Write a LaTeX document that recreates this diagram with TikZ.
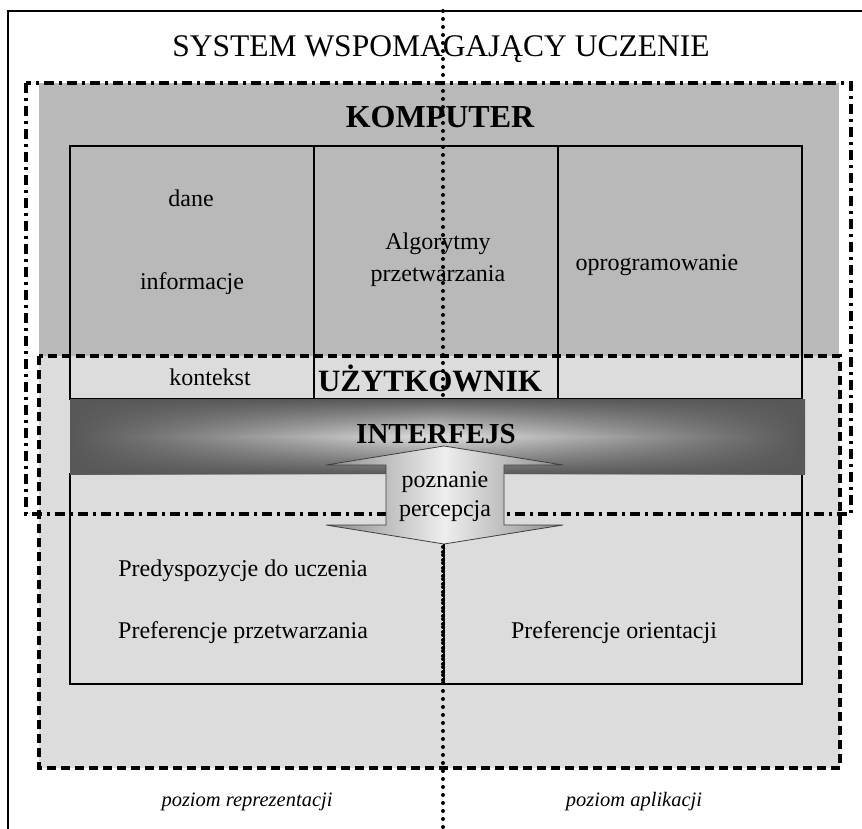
\documentclass[tikz,border=0pt]{standalone}
\usepackage{fontspec}
\setmainfont{Liberation Serif}
\usetikzlibrary{fadings}
\definecolor{gdark}{RGB}{185,185,185}
\definecolor{glight}{RGB}{220,220,220}
\definecolor{bandedge}{RGB}{88,88,88}
\definecolor{bandmid}{RGB}{225,225,225}
\definecolor{arrowedge}{RGB}{140,140,140}
\definecolor{arrowmid}{RGB}{238,238,238}
\tikzfading[name=bandv, top color=transparent!0, bottom color=transparent!0, middle color=transparent!100]
\begin{document}
\begin{tikzpicture}[x=1pt,y=-1pt,
  txt/.style={font=\fontsize{24}{28}\selectfont, inner sep=0pt, anchor=base},
  boldtxt/.style={font=\fontsize{31}{36}\selectfont\bfseries, inner sep=0pt, anchor=base},
  itxt/.style={font=\fontsize{20.5}{24}\selectfont\itshape, inner sep=0pt, anchor=base},
  solidline/.style={line width=1.8pt, draw=black},
  cellbox/.style={rectangle, draw=black, line width=1.8pt, inner sep=0pt, minimum width=244pt, minimum height=253pt},
  dashdotline/.style={line width=3.2pt, dash pattern=on 10pt off 5pt on 3pt off 5pt},
  dashline/.style={line width=3.2pt, dash pattern=on 9pt off 5pt},
  dotline/.style={line width=4pt, dash pattern=on 0pt off 8pt, line cap=round}
]
\useasboundingbox (0,0) rectangle (862,829);
% outer frame (cropped at right and bottom)
\begin{scope}
\clip (0,0) rectangle (862,829);
\draw[solidline] (8,840) -- (8,11) -- (870,11);
\end{scope}
\node[font=\fontsize{31.5}{36}\selectfont, inner sep=0pt, anchor=base] (title) at (441,57) {SYSTEM WSPOMAGAJĄCY UCZENIE};

% background regions
\fill[gdark] (39,83) rectangle (839,356);
\fill[glight] (39,356) rectangle (840,768);
\draw[dashline] (39,356) rectangle (840,768);

% computer table
\node[cellbox] (cellA) at (192,272.5) {};
\node[cellbox] (cellB) at (436,272.5) {};
\node[cellbox] (cellC) at (680,272.5) {};

% lower (user) box
\node[rectangle, draw=black, line width=1.8pt, inner sep=0pt, minimum width=732pt, minimum height=210pt] (lower) at (436,579) {};

% dash-dot rectangle
\draw[dashdotline] (26,83) rectangle (851,514);

% texts
\node[boldtxt, font=\fontsize{32}{36}\selectfont\bfseries] (komp) at (440,128) {KOMPUTER};
\node[txt] (dane) at (191,207) {dane};
\node[txt] (info) at (192,289) {informacje};
\node[txt] (algo) at (438,249) {Algorytmy};
\node[txt] (przet) at (438,281) {przetwarzania};
\node[txt] (oprog) at (657,270) {oprogramowanie};
\node[txt] (kont) at (210,385) {kontekst};
\node[boldtxt] (uzyt) at (430,391) {UŻYTKOWNIK};
\node[txt] (predys) at (243,576) {Predyspozycje do uczenia};
\node[txt, anchor=base west] (prefp) at (118,638) {Preferencje przetwarzania};
\node[txt] (prefo) at (614,638) {Preferencje orientacji};
\node[itxt] (pozr) at (247,806) {poziom reprezentacji};
\node[itxt] (poza) at (634,806) {poziom aplikacji};

% vertical dotted divider
\coordinate (dtop) at (443,11);
\coordinate (dbot) at (443,829);
\draw[dotline] (dtop) -- (dbot);

% interface band
\path[left color=bandedge, right color=bandedge, middle color=bandmid] (70,399) rectangle (805,474);
\fill[bandedge, path fading=bandv] (70,399) rectangle (805,474);
\node[boldtxt, font=\fontsize{29}{34}\selectfont\bfseries] (interf) at (436,443) {INTERFEJS};

% double arrow
\coordinate (atop) at (444,446);
\coordinate (abot) at (444,544);
\draw[draw=black!75, line width=0.8pt, left color=arrowedge, right color=arrowedge, middle color=arrowmid]
  (atop) -- (563,465) -- (504,465) -- (504,525) -- (563,525) -- (abot) -- (326,525) -- (386,525) -- (386,465) -- (326,465) -- cycle;
\node[txt] (pozn) at (445,487) {poznanie};
\node[txt] (perc) at (445,516) {percepcja};

% divider in lower box
\draw[solidline] (abot) -- (abot |- lower.south);
\draw[dotline] (443,552) -- (443,684);
\end{tikzpicture}
\end{document}
